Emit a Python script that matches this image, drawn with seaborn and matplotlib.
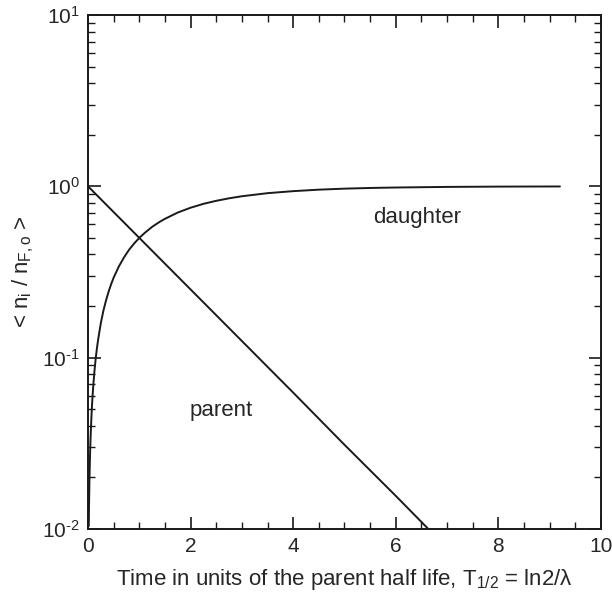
import numpy as np
import pandas as pd
from matplotlib import pyplot as plt
from matplotlib.ticker import MultipleLocator, LogLocator, NullFormatter, FuncFormatter
import seaborn as sns

# values
parent_t = [0.0, 1.0, 2.0, 3.0, 4.0, 5.0, 6.0, 6.62]
parent_n = [1.0, 0.5, 0.25, 0.125, 0.0625, 0.031, 0.0156, 0.0101]

daughter_t = [0.015, 0.02, 0.03, 0.04, 0.05, 0.065, 0.08, 0.1, 0.125, 0.15, 0.175,
              0.2, 0.25, 0.3, 0.35, 0.4, 0.45, 0.5, 0.6, 0.7, 0.8, 0.9, 1.0,
              1.1, 1.25, 1.4, 1.5, 1.75, 2.0, 2.25, 2.5, 2.75, 3.0, 3.5, 4.0,
              4.5, 5.0, 5.5, 6.0, 7.0, 8.0, 9.2]
daughter_n = [0.0104, 0.0138, 0.0206, 0.0273, 0.034, 0.044, 0.054, 0.067, 0.083,
              0.099, 0.114, 0.129, 0.159, 0.188, 0.215, 0.242, 0.268, 0.293,
              0.34, 0.384, 0.426, 0.464, 0.5, 0.533, 0.58, 0.621, 0.646, 0.703,
              0.75, 0.79, 0.823, 0.851, 0.875, 0.912, 0.937, 0.956, 0.969,
              0.978, 0.984, 0.992, 0.996, 0.998]

sns.set_style("ticks")
plt.rcParams['font.family'] = ['Liberation Sans', 'DejaVu Sans']
plt.rcParams['mathtext.fontset'] = 'custom'
plt.rcParams['mathtext.rm'] = 'Liberation Sans'
plt.rcParams['mathtext.it'] = 'Liberation Sans'
plt.rcParams['axes.unicode_minus'] = False

parent_df = pd.DataFrame({'t': parent_t, 'n': parent_n})
daughter_df = pd.DataFrame({'t': daughter_t, 'n': daughter_n})

fig = plt.figure(figsize=(6.12, 5.99), dpi=100)
ax = fig.add_axes([0.1438, 0.1169, 0.8382, 0.8581])

sns.lineplot(data=parent_df, x='t', y='n', ax=ax, color='#1a1a1a', linewidth=1.4)
sns.lineplot(data=daughter_df, x='t', y='n', ax=ax, color='#1a1a1a', linewidth=1.4)

ax.set_yscale('log')
ax.set_xlim(0, 10)
ax.set_ylim(1e-2, 1e1)

ax.xaxis.set_major_locator(MultipleLocator(2))
ax.xaxis.set_minor_locator(MultipleLocator(0.5))
ax.yaxis.set_major_locator(LogLocator(base=10))
ax.yaxis.set_minor_locator(LogLocator(base=10, subs=np.arange(2, 10)))
ax.yaxis.set_minor_formatter(NullFormatter())


# hyphen in the exponent like the original, not a minus sign
def log_label(v, pos):
    e = int(round(np.log10(v)))
    return '10$^{\\text{%d}}$' % e


ax.yaxis.set_major_formatter(FuncFormatter(log_label))

ax.tick_params(which='both', direction='in', top=True, right=True, color='#1a1a1a')
ax.tick_params(which='major', length=9, width=1.2, labelsize=15, pad=6)
ax.tick_params(which='minor', length=5, width=1.0)
for s in ax.spines.values():
    s.set_linewidth(1.4)
    s.set_color('#1a1a1a')

ax.set_xlabel('Time in units of the parent half life, T$_{1/2}$ = ln2/\u03bb', fontsize=16, labelpad=8)
ax.set_ylabel('< n$_{\\rm i}$ / n$_{\\rm F,o}$ >', fontsize=16, labelpad=4)

ax.text(6.41, 0.66, 'daughter', fontsize=16, ha='center', va='center')
ax.text(2.6, 0.049, 'parent', fontsize=16, ha='center', va='center')

plt.savefig('out.png', dpi=100)
